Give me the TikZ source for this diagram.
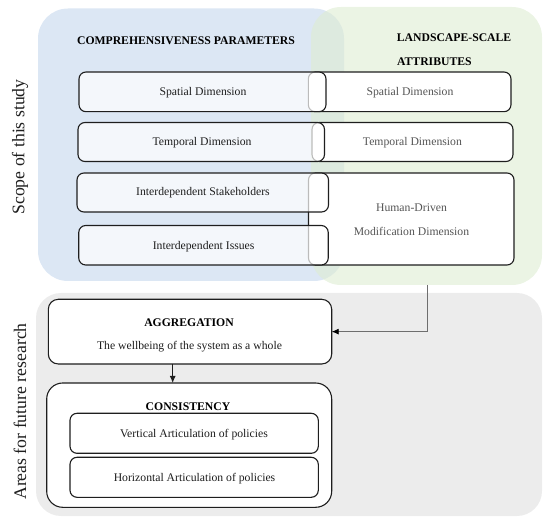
\documentclass[tikz,border=0pt]{standalone}
\usepackage{fontspec}
\setmainfont{Liberation Serif}
\usetikzlibrary{arrows.meta}
\definecolor{blueR}{RGB}{220,231,244}
\definecolor{greenR}{RGB}{222,236,210}
\definecolor{grayR}{RGB}{236,236,236}
\definecolor{lineC}{RGB}{30,30,30}
\definecolor{txtGray}{RGB}{85,85,85}
\definecolor{connC}{RGB}{110,110,110}
\tikzset{
  region/.style={draw=none, rectangle, inner sep=0pt, outer sep=0pt},
  bx/.style={draw=lineC, line width=1.1pt, rectangle, rounded corners=7pt, inner sep=0pt, outer sep=0pt},
  leftbox/.style={bx, fill=white, fill opacity=0.7, text opacity=1},
  rightbox/.style={bx, fill=white},
  txt/.style={font=\fontsize{11.7}{14}\selectfont, text=lineC, inner sep=0pt},
  rtxt/.style={font=\fontsize{11.7}{24.4}\selectfont, text=txtGray, inner sep=0pt, align=center},
  head/.style={font=\fontsize{11.7}{14}\selectfont\bfseries, text=black, inner sep=0pt},
  side/.style={font=\fontsize{17.7}{20}\selectfont, text=lineC, rotate=90, inner sep=0pt},
  arr/.style={line width=0.9pt, draw=lineC, -{Latex[length=7pt,width=6pt]}},
  conn/.style={line width=0.9pt, draw=connC, -{Latex[length=7pt,width=6pt,color=black]}}
}
\begin{document}
\begin{tikzpicture}[x=1pt,y=-1pt]
\useasboundingbox (0,0) rectangle (550,524);
% regions
\node[region, fill=blueR, rounded corners=30pt, minimum width=306pt, minimum height=272.5pt] (blue) at (191,144.75) {};
\node[region, fill=greenR, fill opacity=0.6, rounded corners=30pt, minimum width=231pt, minimum height=278pt] (green) at (426.5,146) {};
\node[region, fill=grayR, rounded corners=25pt, minimum width=506pt, minimum height=223pt] (gray) at (289,404.5) {};
% side labels
\node[side] (scope) at (20,147) {Scope of this study};
\node[side] (areas) at (20,411.5) {Areas for future research};
% headings
\node[head] (comp) at (186,40.7) {COMPREHENSIVENESS PARAMETERS};
\node[head, anchor=west] (land) at (396.7,37.3) {LANDSCAPE-SCALE};
\node[head, anchor=west] (attr) at (396.9,61.7) {ATTRIBUTES};
% right boxes
\node[rightbox, minimum width=202.7pt, minimum height=39.7pt] (r1) at (409.65,91.85) {};
\node[rightbox, minimum width=201pt, minimum height=39pt] (r2) at (412.5,142) {};
\node[rightbox, minimum width=205.5pt, minimum height=92pt] (r3) at (411.25,219) {};
\node[rtxt] (r1t) at (410,92.5) {Spatial Dimension};
\node[rtxt] (r2t) at (412.4,142.5) {Temporal Dimension};
\node[rtxt] (r3t) at (411.5,219.5) {Human-Driven\\Modification Dimension};
% left boxes
\node[leftbox, minimum width=247pt, minimum height=39.7pt] (l1) at (202.5,91.85) {};
\node[leftbox, minimum width=246.5pt, minimum height=39pt] (l2) at (201.25,142) {};
\node[leftbox, minimum width=251.5pt, minimum height=39pt] (l3) at (202.75,192.5) {};
\node[leftbox, minimum width=249.5pt, minimum height=39.5pt] (l4) at (203.5,245.25) {};
\node[txt] (l1t) at (203,92.5) {Spatial Dimension};
\node[txt] (l2t) at (202,142.5) {Temporal Dimension};
\node[txt] (l3t) at (203,193) {Interdependent Stakeholders};
\node[txt] (l4t) at (203.6,246.2) {Interdependent Issues};
% bottom boxes
\node[bx, fill=white, rounded corners=10pt, minimum width=283.4pt, minimum height=64.7pt] (agg) at (190,331.65) {};
\node[head] (aggt) at (189,322.3) {AGGREGATION};
\node[txt] (aggd) at (189.5,346.7) {The wellbeing of the system as a whole};
\node[bx, fill=white, rounded corners=16pt, minimum width=285pt, minimum height=124.3pt] (cons) at (189.2,445.15) {};
\node[head] (const) at (188,406.8) {CONSISTENCY};
\node[bx, fill=white, minimum width=248.3pt, minimum height=40pt] (vert) at (194.15,433.3) {};
\node[txt] (vertt) at (194,435) {Vertical Articulation of policies};
\node[bx, fill=white, minimum width=248.3pt, minimum height=40pt] (hori) at (194.15,477.3) {};
\node[txt] (horit) at (194.5,479) {Horizontal Articulation of policies};
% connectors
\coordinate (gx) at (427.3,0);
\coordinate (ax) at (172.7,0);
\draw[conn] (green.south -| gx) |- (agg.east);
\draw[arr] (agg.south -| ax) -- (cons.north -| ax);
\end{tikzpicture}
\end{document}
